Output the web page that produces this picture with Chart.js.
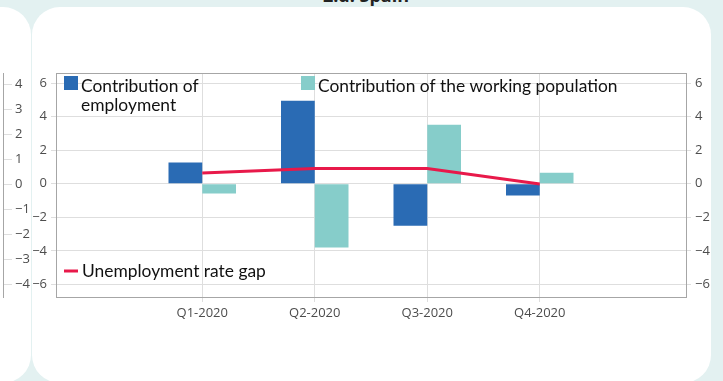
<!DOCTYPE html>
<html>
<head>
<meta charset="utf-8">
<script src="https://cdn.jsdelivr.net/npm/chart.js@4.4.1/dist/chart.umd.min.js"></script>
<style>
    html, body { margin: 0; padding: 0; }
    body { width: 723px; height: 381px; background: #e3f1f1; position: relative; overflow: hidden; }
    .panel { position: absolute; background: #fff; border-radius: 28px; }
    #title { position: absolute; left: 0; width: 732px; top: -17px; text-align: center;
             font: bold 18px 'Open Sans', sans-serif; color: #222; }
    canvas { position: absolute; top: 0; }
</style>
</head>
<body>
<div id="title">2.d. Spain</div>
<div class="panel" style="left:-100px; top:7px; width:131px; height:376px;"></div>
<div class="panel" style="left:32px; top:7px; width:679px; height:376px;"></div>
<canvas id="leftCanvas" width="231" height="381" style="left:-200px;"></canvas>
<canvas id="mainCanvas" width="723" height="381" style="left:0;"></canvas>
<script>
// 数据
const quarters = ['Q1-2020', 'Q2-2020', 'Q3-2020', 'Q4-2020'];
const employment = [1.27, 4.95, -2.5, -0.7];
const workingPopulation = [-0.58, -3.8, 3.52, 0.66];
const unemploymentGap = [0.64, 0.91, 0.91, -0.02];
const yTicks = [-6, -4, -2, 0, 2, 4, 6];
const leftTicks = [-4, -3, -2, -1, 0, 1, 2, 3, 4];

const BLUE = '#2a6bb4';
const TEAL = '#86cdca';
const RED = '#e8194a';
const GRID = '#dedede';
const FRAME = '#a6a6a6';
const TICK_FONT = { family: 'Open Sans', size: 13 };
const LEGEND_FONT = '17.4px Lato';

const minus = v => String(v).replace('-', '\u2212');
const toPoints = arr => arr.map((v, i) => ({ x: i + 1, y: v }));

// 图框
const framePlugin = {
    id: 'frame',
    afterDraw(chart) {
        const a = chart.chartArea;
        const ctx = chart.ctx;
        ctx.save();
        ctx.strokeStyle = FRAME;
        ctx.lineWidth = 1;
        ctx.strokeRect(Math.round(a.left) + 0.5, Math.round(a.top) + 0.5,
            Math.round(a.right - a.left), Math.round(a.bottom - a.top));
        ctx.restore();
    }
};

// 图例 (画在绘图区内)
const legendPlugin = {
    id: 'insideLegend',
    afterDraw(chart) {
        const ctx = chart.ctx;
        ctx.save();
        ctx.font = LEGEND_FONT;
        ctx.textBaseline = 'alphabetic';

        ctx.fillStyle = BLUE;
        ctx.fillRect(64, 76, 14, 14);
        ctx.fillStyle = '#111';
        ctx.fillText('Contribution of', 81, 92);
        ctx.fillText('employment', 81, 111);

        ctx.fillStyle = TEAL;
        ctx.fillRect(301, 76, 14, 14);
        ctx.fillStyle = '#111';
        ctx.fillText('Contribution of the working population', 318, 92);

        ctx.strokeStyle = RED;
        ctx.lineWidth = 3;
        ctx.beginPath();
        ctx.moveTo(64, 271);
        ctx.lineTo(78, 271);
        ctx.stroke();
        ctx.fillText('Unemployment rate gap', 82, 277);
        ctx.restore();
    }
};

new Chart(document.getElementById('mainCanvas').getContext('2d'), {
    data: {
        datasets: [{
            type: 'line',
            label: 'Unemployment rate gap',
            data: toPoints(unemploymentGap),
            borderColor: RED,
            borderWidth: 3,
            pointRadius: 0,
            tension: 0,
            yAxisID: 'y',
            order: 0
        }, {
            type: 'bar',
            label: 'Contribution of employment',
            data: toPoints(employment),
            backgroundColor: BLUE,
            categoryPercentage: 0.6,
            barPercentage: 1,
            yAxisID: 'y',
            order: 1
        }, {
            type: 'bar',
            label: 'Contribution of the working population',
            data: toPoints(workingPopulation),
            backgroundColor: TEAL,
            categoryPercentage: 0.6,
            barPercentage: 1,
            yAxisID: 'y',
            order: 1
        }]
    },
    options: {
        responsive: false,
        animation: false,
        layout: { padding: { top: 73, left: 0, right: 0, bottom: 0 } },
        plugins: {
            legend: { display: false },
            tooltip: { enabled: false }
        },
        scales: {
            x: {
                type: 'linear',
                min: -0.3,
                max: 5.3,
                offset: false,
                afterBuildTicks: s => { s.ticks = quarters.map((q, i) => ({ value: i + 1 })); },
                afterFit: s => { s.height = 84; },
                ticks: {
                    callback: v => quarters[v - 1],
                    color: '#4d4d4d',
                    font: TICK_FONT,
                    padding: 3,
                    maxRotation: 0
                },
                grid: { color: GRID, tickLength: 5, offset: false },
                border: { display: false }
            },
            y: {
                position: 'left',
                min: -6.75,
                max: 6.6,
                afterBuildTicks: s => { s.ticks = yTicks.map(v => ({ value: v })); },
                afterFit: s => { s.width = 56; },
                ticks: { callback: v => minus(v), color: '#4d4d4d', font: TICK_FONT, padding: 4 },
                grid: { color: GRID, tickLength: 5 },
                border: { display: false }
            },
            y2: {
                position: 'right',
                min: -6.75,
                max: 6.6,
                afterBuildTicks: s => { s.ticks = yTicks.map(v => ({ value: v })); },
                afterFit: s => { s.width = 37; },
                ticks: { callback: v => minus(v), color: '#4d4d4d', font: TICK_FONT, padding: 4 },
                grid: { color: GRID, tickLength: 5, drawOnChartArea: false },
                border: { display: false }
            }
        }
    },
    plugins: [framePlugin, legendPlugin]
});

// 左侧相邻图表的右轴 (只露出一部分)
new Chart(document.getElementById('leftCanvas').getContext('2d'), {
    type: 'bar',
    data: { labels: [], datasets: [] },
    options: {
        responsive: false,
        animation: false,
        layout: { padding: { top: 73, bottom: 84 } },
        plugins: { legend: { display: false }, tooltip: { enabled: false } },
        scales: {
            x: { display: false },
            y: {
                position: 'right',
                min: -4.5,
                max: 4.45,
                afterBuildTicks: s => { s.ticks = leftTicks.map(v => ({ value: v })); },
                afterFit: s => { s.width = 28; },
                ticks: { callback: v => minus(v), color: '#4d4d4d', font: TICK_FONT, padding: 3 },
                grid: { color: GRID, tickLength: 9, drawOnChartArea: false },
                border: { display: true, color: FRAME }
            }
        }
    }
});
</script>
</body>
</html>
